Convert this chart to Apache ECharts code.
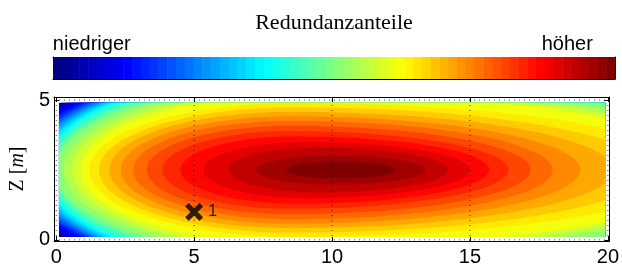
<!DOCTYPE html>
<html>
<head>
<meta charset="utf-8">
<script src="https://cdn.jsdelivr.net/npm/echarts@6/dist/echarts.min.js"></script>
<style>
  html, body { margin: 0; padding: 0; background: #fff; }
  #chart { width: 622px; height: 273px; }
</style>
</head>
<body>
<div id="chart"></div>
<script>
// filled contour levels, k = 0 is the darkest core, going outwards
// each level is an egg shape: centre line crossings left/right, peak x and half height
const contourLeftX = [8.33, 7.25, 6.25, 5.35, 4.5, 3.85, 3.28, 2.78, 2.33, 1.92, 1.55, 1.2, 0.88, 0.57, 0.27,
  -0.04, -0.13, -0.26, -0.36, -0.46, -0.6, -0.73, -0.87, -0.98, -1.1, -1.24, -1.4, -1.51, -1.6, -1.65, -1.8];
const contourPeakX = [10.3, 10.0, 9.5, 9.0, 8.7, 8.5, 8.5, 8.5, 8.5, 8.5, 8.6, 8.7, 9.0, 9.0, 9.0,
  9.0, 9.0, 9.0, 9.0, 9.0, 9.0, 9.0, 9.0, 9.0, 9.0, 9.0, 9.0, 9.0, 9.0, 9.0, 9.0];
const contourHalfHeight = [0.3, 0.52, 0.8, 1.0, 1.2, 1.39, 1.58, 1.76, 1.92, 2.08, 2.24, 2.4, 2.72, 2.84, 2.99,
  3.09, 3.22, 3.35, 3.47, 3.57, 3.6, 3.63, 3.66, 3.7, 3.74, 3.77, 3.79, 3.88, 3.98, 4.11, 4.15];
const contourRightX = [12.28, 13.4, 14.2, 15.0, 15.7, 16.4, 17.2, 18.0, 19.0, 20.2, 21.5, 23.0, 23.96, 24.36, 24.61,
  25.65, 25.92, 26.46, 26.8, 27.1, 27.4, 27.7, 28.0, 28.3, 28.6, 28.9, 29.2, 29.5, 29.8, 30.1, 30.4];
const contourMidY = 2.5;

const dataRangeX = [0.1, 19.9];
const dataRangeY = [0.1, 4.9];

const xTicks = [0, 5, 10, 15, 20];
const yTicks = [0, 5];
const gridLinesX = [0, 5, 10, 15, 20];
const gridLinesY = [0, 5];

const markerPoints = [[5, 1, '1']];

const colorbarTicks = [0.069, 0.915];
const colorbarLabels = ['niedriger', 'höher'];
const colorbarSteps = 64;

const X_MIN = -0.08, X_MAX = 20.05, Y_MIN = -0.04, Y_MAX = 5.11;

function jet(t) {
  const c = v => Math.round(255 * Math.max(0, Math.min(1, 1.5 - Math.abs(4 * t - v))));
  return 'rgb(' + c(3) + ',' + c(2) + ',' + c(1) + ')';
}

const nContours = contourLeftX.length;
const contourOrder = contourLeftX.map((v, i) => [nContours - 1 - i]);   // outer first
const colorbarCells = [];
for (let i = 0; i < colorbarSteps; i++) colorbarCells.push([i]);

function dataClip(api) {
  const p0 = api.coord([dataRangeX[0], dataRangeY[1]]);
  const p1 = api.coord([dataRangeX[1], dataRangeY[0]]);
  return { x: p0[0], y: p0[1], width: p1[0] - p0[0], height: p1[1] - p0[1] };
}

const chart = echarts.init(document.getElementById('chart'));

const sansFont = 'Liberation Sans';
const serifFont = 'Liberation Serif';

const tickStyle = { show: true, inside: true, length: 5, lineStyle: { color: '#000', width: 1 } };

const option = {
  animation: false,
  backgroundColor: '#fff',
  grid: [
    { left: 53, right: 9, top: 97, bottom: 32 },
    { left: 53, right: 7, top: 57, height: 22 }
  ],
  graphic: [{
    type: 'text',
    x: 334, y: 23,
    style: {
      text: 'Redundanzanteile',
      font: '22px "Liberation Serif"',
      fill: '#000',
      textAlign: 'center',
      textVerticalAlign: 'middle'
    }
  }],
  xAxis: [
    {
      gridIndex: 0, type: 'value', position: 'bottom', min: X_MIN, max: X_MAX,
      axisLine: { show: true, onZero: false, lineStyle: { color: '#000', width: 1 } },
      axisTick: Object.assign({ customValues: xTicks }, tickStyle),
      axisLabel: { customValues: xTicks, color: '#000', fontSize: 20, fontFamily: sansFont, margin: 6 },
      splitLine: { show: false }
    },
    {
      gridIndex: 0, type: 'value', position: 'top', min: X_MIN, max: X_MAX,
      axisLine: { show: true, onZero: false, lineStyle: { color: '#000', width: 1 } },
      axisTick: Object.assign({ customValues: xTicks }, tickStyle),
      axisLabel: { show: false },
      splitLine: { show: false }
    },
    {
      gridIndex: 1, type: 'value', position: 'bottom', min: 0, max: 1,
      axisLine: { show: true, onZero: false, lineStyle: { color: '#000', width: 1 } },
      axisTick: Object.assign({ customValues: colorbarTicks }, tickStyle),
      axisLabel: { show: false },
      splitLine: { show: false }
    },
    {
      gridIndex: 1, type: 'value', position: 'top', min: 0, max: 1,
      axisLine: { show: true, onZero: false, lineStyle: { color: '#000', width: 1 } },
      axisTick: Object.assign({ customValues: colorbarTicks }, tickStyle),
      axisLabel: {
        customValues: colorbarTicks, color: '#000', fontSize: 20, fontFamily: sansFont, margin: 3,
        formatter: v => colorbarLabels[colorbarTicks.indexOf(v)] || ''
      },
      splitLine: { show: false }
    }
  ],
  yAxis: [
    {
      gridIndex: 0, type: 'value', position: 'left', min: Y_MIN, max: Y_MAX,
      axisLine: { show: true, onZero: false, lineStyle: { color: '#000', width: 1 } },
      axisTick: Object.assign({ customValues: yTicks }, tickStyle),
      axisLabel: { customValues: yTicks, color: '#000', fontSize: 20, fontFamily: sansFont, margin: 4 },
      splitLine: { show: false },
      name: '{a|Z [}{b|m}{a|]}',
      nameLocation: 'middle',
      nameRotate: 90,
      nameGap: 18,
      nameTextStyle: {
        rich: {
          a: { fontFamily: serifFont, fontSize: 20, color: '#000' },
          b: { fontFamily: serifFont, fontSize: 20, fontStyle: 'italic', color: '#000' }
        }
      }
    },
    {
      gridIndex: 0, type: 'value', position: 'right', min: Y_MIN, max: Y_MAX,
      axisLine: { show: true, onZero: false, lineStyle: { color: '#000', width: 1 } },
      axisTick: Object.assign({ customValues: yTicks }, tickStyle),
      axisLabel: { show: false },
      splitLine: { show: false }
    },
    {
      gridIndex: 1, type: 'value', position: 'left', min: 0, max: 1,
      axisLine: { show: true, onZero: false, lineStyle: { color: '#000', width: 1 } },
      axisTick: { show: false }, axisLabel: { show: false }, splitLine: { show: false }
    },
    {
      gridIndex: 1, type: 'value', position: 'right', min: 0, max: 1,
      axisLine: { show: true, onZero: false, lineStyle: { color: '#000', width: 1 } },
      axisTick: { show: false }, axisLabel: { show: false }, splitLine: { show: false }
    }
  ],
  series: [
    {
      // lowest band fills the whole data rectangle
      type: 'custom', xAxisIndex: 0, yAxisIndex: 0, z: 1,
      data: [[0]],
      renderItem: (params, api) => ({
        type: 'rect', shape: dataClip(api), style: { fill: jet(0) }
      })
    },
    {
      type: 'custom', xAxisIndex: 0, yAxisIndex: 0, z: 2,
      data: contourOrder,
      renderItem: (params, api) => {
        const k = api.value(0);
        const xl = contourLeftX[k], xr = contourRightX[k], xp = contourPeakX[k], hh = contourHalfHeight[k];
        const pl = api.coord([xl, contourMidY]);
        const pt = api.coord([xp, contourMidY + hh]);
        const pr = api.coord([xr, contourMidY]);
        const pb = api.coord([xp, contourMidY - hh]);
        const rl = api.size([xp - xl, 0])[0];
        const rr = api.size([xr - xp, 0])[0];
        const ry = api.size([0, hh])[1];
        const d = 'M' + pl[0] + ',' + pl[1] +
          ' A' + rl + ',' + ry + ' 0 0 1 ' + pt[0] + ',' + pt[1] +
          ' A' + rr + ',' + ry + ' 0 0 1 ' + pr[0] + ',' + pr[1] +
          ' A' + rr + ',' + ry + ' 0 0 1 ' + pb[0] + ',' + pb[1] +
          ' A' + rl + ',' + ry + ' 0 0 1 ' + pl[0] + ',' + pl[1] + ' Z';
        return {
          type: 'group',
          clipPath: { type: 'rect', shape: dataClip(api) },
          children: [{
            type: 'path',
            shape: { pathData: d },
            style: { fill: jet((nContours - k) / nContours), stroke: null }
          }]
        };
      }
    },
    {
      // dotted grid lines
      type: 'custom', xAxisIndex: 0, yAxisIndex: 0, z: 5,
      data: gridLinesX.map(v => [v, 0]).concat(gridLinesY.map(v => [v, 1])),
      renderItem: (params, api) => {
        const v = api.value(0), vertical = api.value(1) === 0;
        const a = vertical ? api.coord([v, Y_MIN]) : api.coord([X_MIN, v]);
        const b = vertical ? api.coord([v, Y_MAX]) : api.coord([X_MAX, v]);
        return {
          type: 'line',
          shape: { x1: a[0], y1: a[1], x2: b[0], y2: b[1] },
          style: { stroke: '#000', lineWidth: 1, lineDash: [1, 4], opacity: 0.75 }
        };
      }
    },
    {
      type: 'scatter', xAxisIndex: 0, yAxisIndex: 0, z: 10,
      data: markerPoints,
      symbol: 'path://M2,0 L5,3 L8,0 L10,2 L7,5 L10,8 L8,10 L5,7 L2,10 L0,8 L3,5 L0,2 Z',
      symbolSize: 18,
      itemStyle: { color: '#000' },
      label: {
        show: true, position: 'right', distance: 5,
        formatter: p => p.value[2],
        color: '#000', fontSize: 16, fontFamily: sansFont
      }
    },
    {
      // colour bar
      type: 'custom', xAxisIndex: 2, yAxisIndex: 2, z: 1,
      data: colorbarCells,
      renderItem: (params, api) => {
        const i = api.value(0);
        const p0 = api.coord([i / colorbarSteps, 1]);
        const p1 = api.coord([(i + 1) / colorbarSteps, 0]);
        return {
          type: 'rect',
          shape: { x: p0[0], y: p0[1], width: p1[0] - p0[0] + 0.5, height: p1[1] - p0[1] },
          style: { fill: jet(i / (colorbarSteps - 1)) }
        };
      }
    }
  ]
};

chart.setOption(option);
</script>
</body>
</html>
